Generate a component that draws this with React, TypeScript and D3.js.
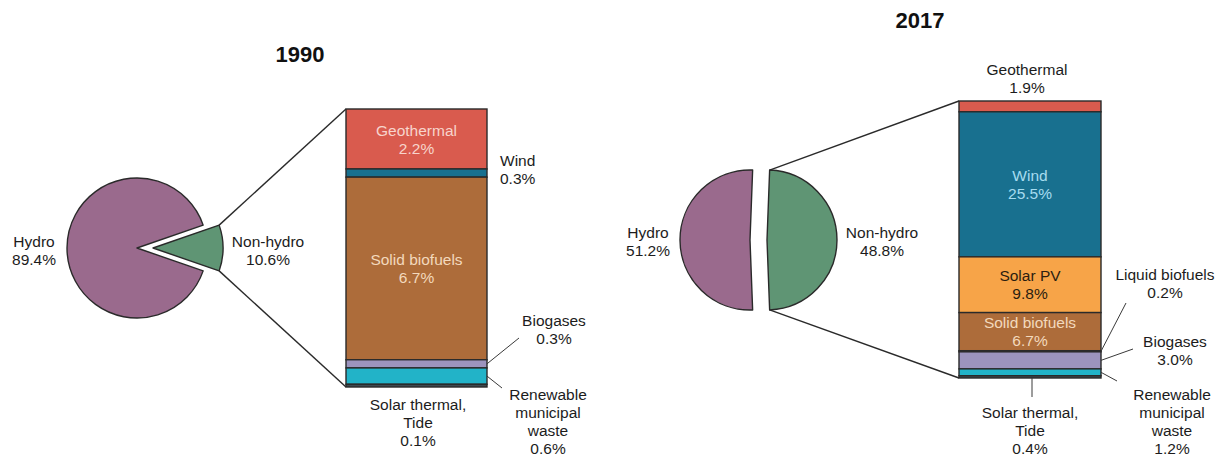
import React from "react";
import * as d3 from "d3";

// Share of renewable electricity generation, hydro vs. non-hydro (pie),
// with the non-hydro part broken down by source (stacked bar).
const years = ["1990", "2017"];

const pieCategories = ["Hydro", "Non-hydro"];
const pieShares1990 = [89.4, 10.6];
const pieShares2017 = [51.2, 48.8];

const barCategories1990 = [
  "Geothermal",
  "Wind",
  "Solid biofuels",
  "Biogases",
  "Renewable municipal waste",
  "Solar thermal, Tide",
];
const barShares1990 = [2.2, 0.3, 6.7, 0.3, 0.6, 0.1];

const barCategories2017 = [
  "Geothermal",
  "Wind",
  "Solar PV",
  "Solid biofuels",
  "Liquid biofuels",
  "Biogases",
  "Renewable municipal waste",
  "Solar thermal, Tide",
];
const barShares2017 = [1.9, 25.5, 9.8, 6.7, 0.2, 3.0, 1.2, 0.4];

const colors: Record<string, string> = {
  Hydro: "#9a6a8d",
  "Non-hydro": "#5f9574",
  Geothermal: "#d95b4e",
  Wind: "#18708f",
  "Solar PV": "#f7a448",
  "Solid biofuels": "#ad6c3a",
  "Liquid biofuels": "#7a8a3a",
  Biogases: "#9c94be",
  "Renewable municipal waste": "#22b3c8",
  "Solar thermal, Tide": "#3c4a50",
};

const lineBreaks: Record<string, string[]> = {
  "Renewable municipal waste": ["Renewable", "municipal", "waste"],
  "Solar thermal, Tide": ["Solar thermal,", "Tide"],
};

const FONT = "'Liberation Sans', Arial, sans-serif";
const FS = 15.5;
const LH = 18;
const INK = "#1c1c1c";
const EDGE = "#2a2a2a";

type Placement =
  | { inside: true; color: string }
  | { inside?: false; x: number; y: number; anchor?: "start" | "middle" | "end"; leader?: [number, number] };

interface PanelLayout {
  year: string;
  titleX: number;
  titleY: number;
  pie: { cx: number; cy: number; r: number; explode: number };
  pieLabels: { x: number; y: number }[];
  bar: { x0: number; x1: number; y0: number; y1: number };
  placements: Record<string, Placement>;
}

const fmt = (v: number) => `${v.toFixed(1)}%`;

function Lines({ x, y, lines, anchor = "middle", color = INK }: { x: number; y: number; lines: string[]; anchor?: string; color?: string }) {
  return (
    <text x={x} y={y} textAnchor={anchor as any} fontFamily={FONT} fontSize={FS} fill={color}>
      {lines.map((l, i) => (
        <tspan key={i} x={x} dy={i === 0 ? 0 : LH}>
          {l}
        </tspan>
      ))}
    </text>
  );
}

function BarOfPie({
  layout,
  pieShares,
  barCats,
  barShares,
}: {
  layout: PanelLayout;
  pieShares: number[];
  barCats: string[];
  barShares: number[];
}) {
  const { pie: P, bar: B } = layout;
  const total = d3.sum(pieShares);
  const nonFrac = pieShares[1] / total;

  // Hydro first, starting so that the non-hydro slice is centred on the right.
  const start = Math.PI / 2 + nonFrac * Math.PI;
  const arcs = d3.pie<number>().sort(null).startAngle(start).endAngle(start + 2 * Math.PI)(pieShares);
  const arcGen = d3.arc<d3.PieArcDatum<number>>().innerRadius(0).outerRadius(P.r);

  const nonArc = arcs[1];
  const mid = (nonArc.startAngle + nonArc.endAngle) / 2;
  const ox = Math.sin(mid) * P.explode;
  const oy = -Math.cos(mid) * P.explode;
  const pt = (a: number): [number, number] => [P.cx + ox + P.r * Math.sin(a), P.cy + oy - P.r * Math.cos(a)];
  const [ax, ay] = pt(nonArc.startAngle);
  const [bx, by] = pt(nonArc.endAngle);
  // the arc's upper end is the one with smaller y
  const upper = ay < by ? [ax, ay] : [bx, by];
  const lower = ay < by ? [bx, by] : [ax, ay];

  const y = d3.scaleLinear().domain([0, d3.sum(barShares)]).range([B.y0, B.y1]);
  const cum = d3.cumsum(barShares);
  const segs = barCats.map((c, i) => ({
    cat: c,
    value: barShares[i],
    top: y(cum[i] - barShares[i]),
    bottom: y(cum[i]),
  }));

  return (
    <g>
      <text x={layout.titleX} y={layout.titleY} textAnchor="middle" fontFamily={FONT} fontSize={22} fontWeight="bold" fill="#111">
        {layout.year}
      </text>

      {/* connectors from the exploded slice to the bar */}
      <line x1={upper[0]} y1={upper[1]} x2={B.x0} y2={B.y0} stroke={EDGE} strokeWidth={1.4} />
      <line x1={lower[0]} y1={lower[1]} x2={B.x0} y2={B.y1} stroke={EDGE} strokeWidth={1.4} />

      {arcs.map((a, i) => {
        const m = (a.startAngle + a.endAngle) / 2;
        const off = i === 1 ? P.explode : 0;
        const tx = P.cx + Math.sin(m) * off;
        const ty = P.cy - Math.cos(m) * off;
        return (
          <path
            key={i}
            d={arcGen(a) || ""}
            transform={`translate(${tx},${ty})`}
            fill={colors[pieCategories[i]]}
            stroke={EDGE}
            strokeWidth={1.4}
            strokeLinejoin="round"
          />
        );
      })}

      {pieCategories.map((c, i) => (
        <Lines key={c} x={layout.pieLabels[i].x} y={layout.pieLabels[i].y} lines={[c, fmt(pieShares[i])]} />
      ))}

      {segs.map((s) => (
        <rect
          key={s.cat}
          x={B.x0}
          y={s.top}
          width={B.x1 - B.x0}
          height={Math.max(0, s.bottom - s.top)}
          fill={colors[s.cat]}
          stroke={EDGE}
          strokeWidth={1.4}
        />
      ))}

      {segs.map((s) => {
        const p = layout.placements[s.cat];
        if (!p) return null;
        const lines = [...(lineBreaks[s.cat] || [s.cat]), fmt(s.value)];
        if (p.inside) {
          const midY = (s.top + s.bottom) / 2;
          const firstBase = midY - ((lines.length - 1) * LH) / 2 + FS * 0.36;
          return <Lines key={s.cat} x={(B.x0 + B.x1) / 2} y={firstBase} lines={lines} color={p.color} />;
        }
        const midY = (s.top + s.bottom) / 2;
        const isSolarThermal = s.cat === "Solar thermal, Tide";
        return (
          <g key={s.cat}>
            {p.leader &&
              (isSolarThermal ? (
                <line x1={p.leader[0]} y1={s.bottom} x2={p.leader[0]} y2={p.leader[1]} stroke="#3a3a3a" strokeWidth={1} />
              ) : (
                <line x1={B.x1} y1={midY} x2={p.leader[0]} y2={p.leader[1]} stroke="#3a3a3a" strokeWidth={1} />
              ))}
            <Lines x={p.x} y={p.y} lines={lines} anchor={p.anchor || "middle"} />
          </g>
        );
      })}
    </g>
  );
}

const layout1990: PanelLayout = {
  year: years[0],
  titleX: 300,
  titleY: 62,
  pie: { cx: 137, cy: 248, r: 70, explode: 16 },
  pieLabels: [
    { x: 34, y: 247 },
    { x: 268, y: 247 },
  ],
  bar: { x0: 346, x1: 487, y0: 109, y1: 387 },
  placements: {
    Geothermal: { inside: true, color: "#f7d4cc" },
    Wind: { x: 500, y: 166, anchor: "start" },
    "Solid biofuels": { inside: true, color: "#f3d9bd" },
    Biogases: { x: 554, y: 326, leader: [519, 338] },
    "Renewable municipal waste": { x: 548, y: 400, leader: [502, 388] },
    "Solar thermal, Tide": { x: 418, y: 410 },
  },
};

const layout2017: PanelLayout = {
  year: years[1],
  titleX: 920,
  titleY: 28,
  pie: { cx: 750, cy: 240, r: 70, explode: 17 },
  pieLabels: [
    { x: 648, y: 238 },
    { x: 882, y: 238 },
  ],
  bar: { x0: 959, x1: 1101, y0: 101, y1: 378 },
  placements: {
    Geothermal: { x: 1027, y: 75 },
    Wind: { inside: true, color: "#a6dcf0" },
    "Solar PV": { inside: true, color: "#2b1d10" },
    "Solid biofuels": { inside: true, color: "#f3d9bd" },
    "Liquid biofuels": { x: 1165, y: 280, leader: [1126, 303] },
    Biogases: { x: 1175, y: 347, leader: [1133, 349] },
    "Renewable municipal waste": { x: 1172, y: 400, leader: [1117, 381] },
    "Solar thermal, Tide": { x: 1030, y: 418, leader: [1032, 397] },
  },
};

export default function App() {
  return (
    <svg
      width={1222}
      height={459}
      viewBox="0 0 1222 459"
      style={{ position: "absolute", left: 0, top: 0, background: "#fff" }}
    >
      <rect width={1222} height={459} fill="#fff" />
      <BarOfPie layout={layout1990} pieShares={pieShares1990} barCats={barCategories1990} barShares={barShares1990} />
      <BarOfPie layout={layout2017} pieShares={pieShares2017} barCats={barCategories2017} barShares={barShares2017} />
    </svg>
  );
}
